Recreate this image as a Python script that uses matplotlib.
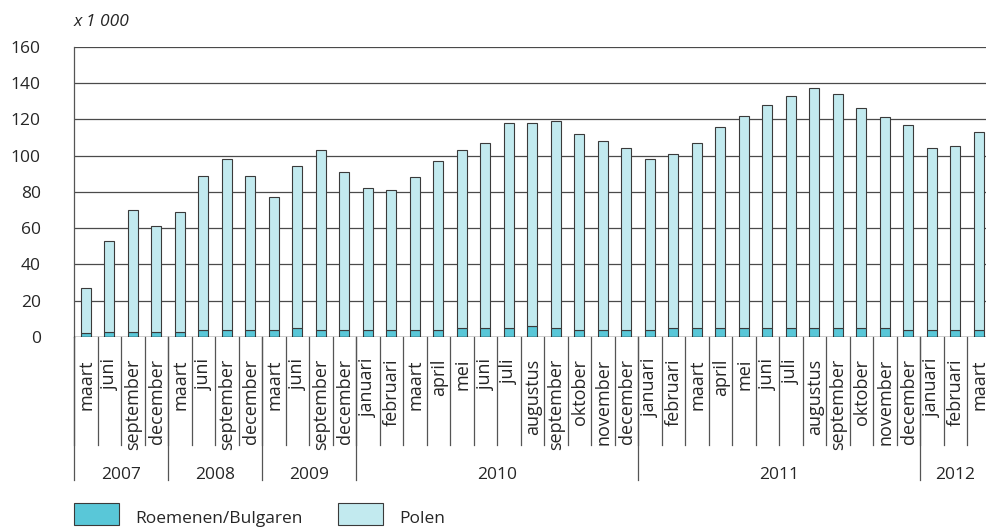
import matplotlib
matplotlib.use("Agg")
import matplotlib.pyplot as plt
from matplotlib.patches import Rectangle
import matplotlib.transforms as mtransforms

plt.rcParams['font.family'] = ['Open Sans', 'DejaVu Sans']

months = ["maart", "juni", "september", "december",
          "maart", "juni", "september", "december",
          "maart", "juni", "september", "december",
          "januari", "februari", "maart", "april", "mei", "juni", "juli",
          "augustus", "september", "oktober", "november", "december",
          "januari", "februari", "maart", "april", "mei", "juni", "juli",
          "augustus", "september", "oktober", "november", "december",
          "januari", "februari", "maart"]
years = ["2007", "2008", "2009", "2010", "2011", "2012"]
year_counts = [4, 4, 4, 12, 12, 3]

totals = [27, 53, 70, 61, 69, 89, 98, 89, 77, 94, 103, 91,
          82, 81, 88, 97, 103, 107, 118, 118, 119, 112, 108, 104,
          98, 101, 107, 116, 122, 128, 133, 137, 134, 126, 121, 117,
          104, 105, 113]
roemenen = [2, 3, 3, 3, 3, 4, 4, 4, 4, 5, 4, 4,
            4, 4, 4, 4, 5, 5, 5, 6, 5, 4, 4, 4,
            4, 5, 5, 5, 5, 5, 5, 5, 5, 5, 5, 4,
            4, 4, 4]
polen = [t - r for t, r in zip(totals, roemenen)]

c_roem = "#59c7d8"
c_pol = "#c2eaef"
edge = "#3a3a3a"
txt = "#262626"

W, H = 987, 528
fig = plt.figure(figsize=(W / 100, H / 100), dpi=100)
x0, x1 = 74, 987
y0, y1 = 337, 46.7
ax = fig.add_axes([x0 / W, (H - y0) / H, (x1 - x0) / W, (y0 - y1) / H])

x = list(range(len(months)))
ax.bar(x, roemenen, width=0.41, color=c_roem, edgecolor=edge, linewidth=0.8, zorder=3)
ax.bar(x, polen, width=0.41, bottom=roemenen, color=c_pol, edgecolor=edge, linewidth=0.8, zorder=3)

ax.set_xlim(-0.5, 38.35)
ax.set_ylim(0, 160)
ax.set_yticks(range(0, 161, 20))
ax.set_xticks([])
for yv in range(20, 161, 20):
    ax.axhline(yv, color="#4a4a4a", linewidth=0.9, zorder=1)
ax.axhline(0, color="#111111", linewidth=1.0, zorder=4)
for s in ["top", "right", "bottom"]:
    ax.spines[s].set_visible(False)
ax.spines["left"].set_color("#555555")
ax.spines["left"].set_linewidth(0.9)
ax.tick_params(axis="y", length=0, pad=24, labelsize=12.5, labelcolor=txt)

ax.text(0.0, (y0 - 22) / (y0 - y1), "x 1 000", transform=ax.transAxes,
        fontsize=12.5, style="italic", color=txt, ha="left", va="center")

trans = mtransforms.blended_transform_factory(ax.transData, ax.transAxes)
ah = y0 - y1
month_bot = -(445 - y0) / ah
year_bot = -(480 - y0) / ah
# month separators
for i in range(len(months)):
    ax.plot([i - 0.5, i - 0.5], [0, month_bot], transform=trans, color="#555555",
            linewidth=0.9, clip_on=False)
# month labels
for i, m in enumerate(months):
    ax.text(i + 0.03, -(359 - y0) / ah, m, transform=trans, rotation=90, ha="center",
            va="top", fontsize=13, color=txt, clip_on=False)
# year separators and labels
start = 0
for yr, n in zip(years, year_counts):
    ax.plot([start - 0.5, start - 0.5], [0, year_bot], transform=trans, color="#555555",
            linewidth=0.9, clip_on=False)
    ax.text(start - 0.5 + n / 2, -(475 - y0) / ah, yr, transform=trans, ha="center",
            va="center", fontsize=12.5, color=txt, clip_on=False)
    start += n

# legend
def legend_item(px, text, color, tx):
    fig.patches.append(Rectangle((px / W, (H - 525) / H), 45 / W, 22 / H,
                                 transform=fig.transFigure, facecolor=color,
                                 edgecolor=edge, linewidth=0.8))
    fig.text(tx / W, (H - 519) / H, text, fontsize=12.5, color=txt,
             ha="left", va="center")

legend_item(74, "Roemenen/Bulgaren", c_roem, 135)
legend_item(338, "Polen", c_pol, 399)

fig.savefig("out.png", dpi=100)
